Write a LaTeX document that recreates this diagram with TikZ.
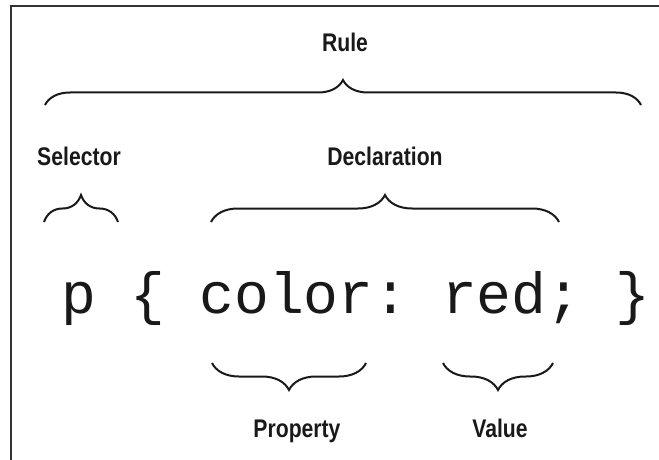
\documentclass[tikz,border=0pt]{standalone}
\usepackage{fontspec}
\usetikzlibrary{decorations.pathreplacing}
\newfontfamily\labfont[FakeStretch=0.83]{Liberation Sans Bold}
\newfontfamily\codefont{Liberation Mono}
\tikzset{
  lab/.style={font=\labfont\fontsize{25.5}{25.5}\selectfont, anchor=base, inner sep=0pt, text=black!90},
  codech/.style={font=\codefont\fontsize{58}{58}\selectfont, anchor=base, inner sep=0pt, text=black!90},
  bracedraw/.style={draw=black!90, line width=2pt, decorate, decoration={brace, amplitude=#1}},
  bracedraw/.default=27pt,
  frameline/.style={draw=black!80, line width=2.2pt}
}
\begin{document}
\begin{tikzpicture}[x=1pt, y=-1pt]
\useasboundingbox (0,0) rectangle (659,460);
% frame
\draw[frameline] (659,6) -- (11,6) -- (11,460);
% labels
\node[lab] (rule) at (345,52) {Rule};
\node[lab] (selector) at (79,165) {Selector};
\node[lab] (declaration) at (385,165) {Declaration};
\node[lab] (property) at (297,437) {Property};
\node[lab] (value) at (500,437) {Value};
% code: p { color: red; }   (monospace cells, advance 34.6)
\node[codech] (c0)  at (79.0,313)  {p};
\node[codech] (c2)  at (148.2,313) {\{};
\node[codech] (c4)  at (217.4,313) {c};
\node[codech] (c5)  at (252.0,313) {o};
\node[codech] (c6)  at (286.6,313) {l};
\node[codech] (c7)  at (321.2,313) {o};
\node[codech] (c8)  at (355.8,313) {r};
\node[codech] (c9)  at (390.4,313) {:};
\node[codech] (c11) at (459.6,313) {r};
\node[codech] (c12) at (494.2,313) {e};
\node[codech] (c13) at (528.8,313) {d};
\node[codech] (c14) at (563.4,313) {;};
\node[codech] (c16) at (632.6,313) {\}};
% brace end points
\coordinate (rA) at (45,105);
\coordinate (rB) at (641,105);
\coordinate (sA) at (44,222);
\coordinate (sB) at (118,222);
\coordinate (dA) at (211,222);
\coordinate (dB) at (559,222);
\coordinate (pA) at (212,363);
\coordinate (pB) at (366,363);
\coordinate (vA) at (443,363);
\coordinate (vB) at (553,363);
% braces
\draw[bracedraw=25pt] (rA) -- (rB);
\draw[bracedraw] (sA) -- (sB);
\draw[bracedraw] (dA) -- (dB);
\draw[bracedraw] (pB) -- (pA);
\draw[bracedraw] (vB) -- (vA);
\end{tikzpicture}
\end{document}
